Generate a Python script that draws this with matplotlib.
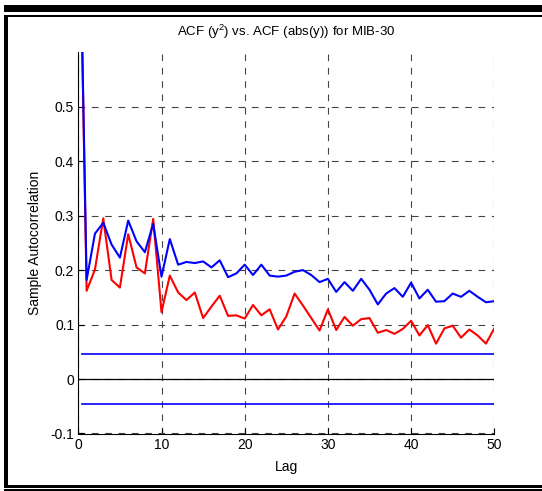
import matplotlib
matplotlib.use("Agg")
import matplotlib.pyplot as plt
from matplotlib.patches import Rectangle

plt.rcParams['font.family'] = ['Liberation Sans', 'DejaVu Sans']
plt.rcParams['mathtext.fontset'] = 'custom'
plt.rcParams['mathtext.rm'] = 'Liberation Sans'
plt.rcParams['mathtext.it'] = 'Liberation Sans:italic'
plt.rcParams['mathtext.bf'] = 'Liberation Sans:bold'

lags = list(range(0, 51))
acf_abs = [1.0, 0.182, 0.267, 0.287, 0.247, 0.223, 0.291, 0.253, 0.233, 0.285,
           0.188, 0.257, 0.210, 0.215, 0.213, 0.216, 0.205, 0.218, 0.187, 0.194,
           0.210, 0.191, 0.210, 0.190, 0.188, 0.190, 0.197, 0.200, 0.191, 0.178,
           0.184, 0.160, 0.178, 0.162, 0.184, 0.164, 0.137, 0.157, 0.167, 0.151,
           0.177, 0.148, 0.164, 0.142, 0.143, 0.157, 0.151, 0.162, 0.151, 0.141,
           0.143]
acf_sq = [1.0, 0.162, 0.201, 0.295, 0.182, 0.168, 0.266, 0.205, 0.194, 0.294,
          0.123, 0.190, 0.159, 0.145, 0.159, 0.112, 0.133, 0.153, 0.116, 0.117,
          0.111, 0.136, 0.117, 0.128, 0.091, 0.115, 0.157, 0.135, 0.112, 0.089,
          0.128, 0.090, 0.114, 0.098, 0.110, 0.112, 0.085, 0.090, 0.083, 0.092,
          0.107, 0.080, 0.099, 0.065, 0.093, 0.098, 0.076, 0.091, 0.080, 0.065,
          0.093]
conf_bound = 0.046
band_x = [0.5, 50]
xticks = [0, 10, 20, 30, 40, 50]
yticks = [-0.1, 0, 0.1, 0.2, 0.3, 0.4, 0.5]
ytick_labels = ['-0.1', '0', '0.1', '0.2', '0.3', '0.4', '0.5']

W, H = 542, 491
fig = plt.figure(figsize=(W / 100, H / 100), dpi=100)
ax = fig.add_axes([78.3 / W, 1 - 433.5 / H, (494.3 - 78.3) / W, (433.5 - 52.3) / H])

ax.plot(lags, acf_sq, color='#ff0000', lw=1.5, zorder=3)
ax.plot(lags, acf_abs, color='#0000ff', lw=1.5, zorder=4)
ax.plot([0, 50], [0, 0], color='black', lw=0.9, zorder=2)
ax.plot(band_x, [conf_bound, conf_bound], color='#0000ff', lw=1.2, zorder=2)
ax.plot(band_x, [-conf_bound, -conf_bound], color='#0000ff', lw=1.2, zorder=2)

ax.set_xlim(0, 50)
ax.set_ylim(-0.1, 0.6)
ax.set_xticks(xticks)
ax.set_yticks(yticks)
ax.set_yticklabels(ytick_labels)
ax.tick_params(direction='in', length=4, width=0.8, labelsize=10, pad=3)
ax.grid(True, color='#444444', linestyle=(0, (6, 6)), linewidth=0.8, zorder=1)
ax.spines['top'].set_visible(False)
ax.spines['right'].set_visible(False)
ax.spines['left'].set_linewidth(0.8)
ax.spines['bottom'].set_linewidth(0.8)

ax.set_title('ACF (y$^{2}$) vs. ACF (abs(y)) for MIB-30', fontsize=9.5, pad=12)
ax.set_xlabel('Lag', fontsize=10, labelpad=6)
ax.set_ylabel('Sample Autocorrelation', fontsize=10, labelpad=6)

def px_rect(x0, y0, x1, y1):
    fig.add_artist(Rectangle((x0 / W, 1 - y1 / H), (x1 - x0) / W, (y1 - y0) / H,
                             transform=fig.transFigure, facecolor='black',
                             edgecolor='none', zorder=10))

px_rect(4, 5, 542, 12.3)
px_rect(4, 14.7, 542, 16.7)
px_rect(4, 14.7, 7.5, 487.5)
px_rect(4, 484.5, 542, 487.5)
px_rect(4, 488.7, 542, 490.5)

fig.savefig('out.png', dpi=100, facecolor='white')
